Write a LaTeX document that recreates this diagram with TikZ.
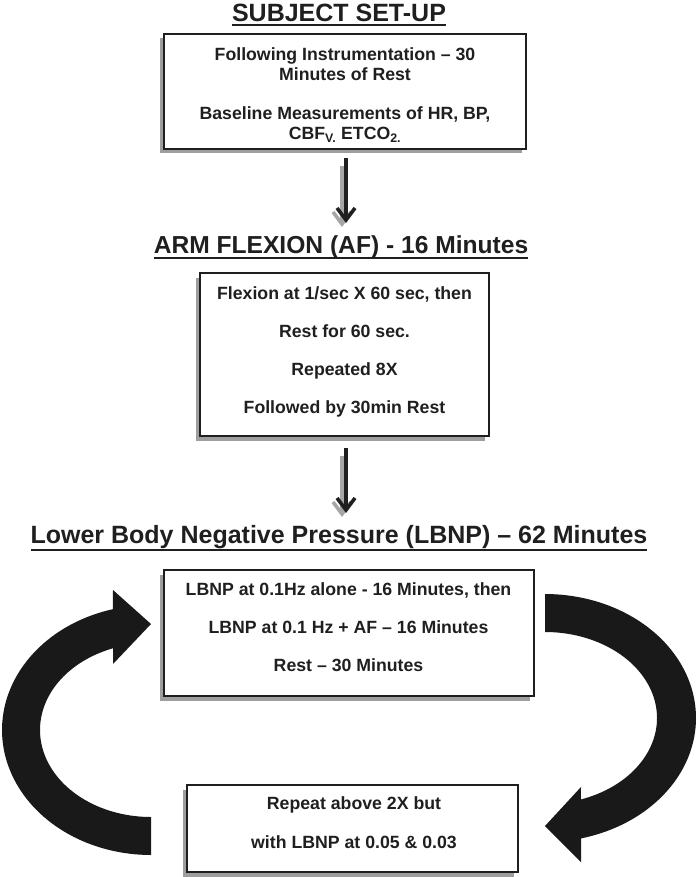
\documentclass[tikz,border=0pt]{standalone}
\usepackage{fontspec}
\setmainfont{Liberation Sans}
\usetikzlibrary{arrows.meta,shadows}
\newcommand{\ttlul}[2]{\setbox0=\hbox{#2}\rlap{\copy0}\rule[-#1]{\wd0}{2pt}}
\begin{document}
\begin{tikzpicture}[x=1pt,y=-1pt,
  ink/.style={black!88},
  box/.style={draw=black!88, line width=2.6pt, fill=white, rectangle, inner sep=0pt,
    general shadow={fill=black!38, shadow xshift=-4.5pt, shadow yshift=-4.5pt}},
  boxtext/.style={align=center, text=black!88, font=\bfseries\fontsize{17.7}{38}\selectfont, inner sep=0pt},
  ttl/.style={anchor=base, text=black!88, inner sep=0pt},
  arr/.style={line width=3.6pt, draw=black!88, -{Straight Barb[length=12pt,width=18pt]}},
  arrshadow/.style={arr, draw=black!35, transform canvas={shift={(-4pt,-4pt)}}},
  bigarrow/.style={fill=black!90}
]
\useasboundingbox (0,0) rectangle (696,877);

% titles
\node[ttl, font=\bfseries\fontsize{25}{30}\selectfont] (t1) at (339,22) {\ttlul{4.5pt}{SUBJECT SET-UP}};
\node[ttl, font=\bfseries\fontsize{24.6}{30}\selectfont] (t2) at (341,253) {\ttlul{6pt}{ARM FLEXION (AF) - 16 Minutes}};
\node[ttl, font=\bfseries\fontsize{25}{30}\selectfont] (t3) at (339,543) {\ttlul{7.6pt}{Lower Body Negative Pressure (LBNP) – 62 Minutes}};

% boxes
\node[box, minimum width=362pt, minimum height=115pt] (b1) at (345,91.5) {};
\node[boxtext, font=\bfseries\fontsize{17.7}{20}\selectfont] (x1) at (345,95)
  {Following Instrumentation – 30\\Minutes of Rest\\[19pt]Baseline Measurements of HR, BP,\\CBF\textsubscript{V.} ETCO\textsubscript{2.}};

\node[box, minimum width=289pt, minimum height=163pt] (b2) at (344.5,354.5) {};
\node[boxtext] (x2) at (344.5,351.5)
  {Flexion at 1/sec X 60 sec, then\\Rest for 60 sec.\\Repeated 8X\\Followed by 30min Rest};

\node[box, minimum width=370pt, minimum height=126pt] (b3) at (349,633) {};
\node[boxtext] (x3) at (348.5,627)
  {LBNP at 0.1Hz alone - 16 Minutes, then\\LBNP at 0.1 Hz + AF – 16 Minutes\\Rest – 30 Minutes};

\node[box, minimum width=331pt, minimum height=87pt] (b4) at (352.5,828.5) {};
\node[boxtext, font=\bfseries\fontsize{17.7}{39}\selectfont] (x4) at (354,823)
  {Repeat above 2X but\\with LBNP at 0.05 \& 0.03};

% straight arrows
\coordinate (a1) at (346,223);
\coordinate (a2) at (346,513);
\draw[arrshadow, shorten <=12pt] (a1 |- b1.south) -- (a1);
\draw[arr, shorten <=8pt] (a1 |- b1.south) -- (a1);
\draw[arrshadow, shorten <=15pt] (a2 |- b2.south) -- (a2);
\draw[arr, shorten <=11pt] (a2 |- b2.south) -- (a2);

% curved arrows
\fill[bigarrow] plot[domain=90:255.2, samples=80] ({151+149*cos(\x)},{730+125*sin(\x)})
  -- (113,590) -- (151,624) -- (113,664)
  -- plot[domain=250:90, samples=80] ({151+111*cos(\x)},{730+87*sin(\x)}) -- cycle;
\fill[bigarrow] plot[domain=-90:76.2, samples=80] ({545+151*cos(\x)},{718+124*sin(\x)})
  -- (581,862) -- (545,826) -- (581,787)
  -- plot[domain=71.3:-90, samples=80] ({545+112*cos(\x)},{718+86*sin(\x)}) -- cycle;
\end{tikzpicture}
\end{document}
